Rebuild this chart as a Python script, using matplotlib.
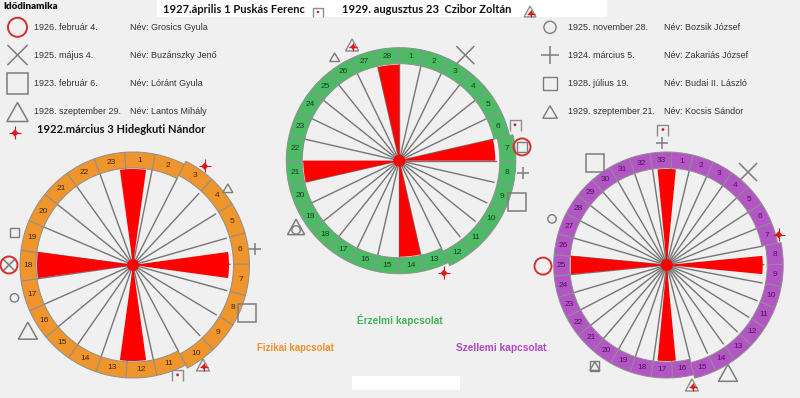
import numpy as np
import matplotlib
matplotlib.use('Agg')
import matplotlib.pyplot as plt
from matplotlib.patches import Wedge, Circle, Rectangle, Polygon

# ---------------- data ----------------
title = "Idődinamika"
left_dates = ["1926. február 4.", "1925. május 4.", "1923. február 6.", "1928. szeptember 29."]
left_names = ["Név: Grosics Gyula", "Név: Buzánszky Jenő", "Név: Lóránt Gyula", "Név: Lantos Mihály"]
left_symbols = ["Grosics", "Buzánszky", "Lóránt", "Lantos"]
right_dates = ["1925. november 28.", "1924. március 5.", "1928. július 19.", "1929. szeptember 21."]
right_names = ["Név: Bozsik József", "Név: Zakariás József", "Név: Budai II. László", "Név: Kocsis Sándor"]
right_symbols = ["Bozsik", "Zakariás", "Budai", "Kocsis"]
hidegkuti_text = "1922.március 3 Hidegkuti Nándor"
puskas_text = "1927.április 1 Puskás Ferenc"
czibor_text = "1929. augusztus 23  Czibor Zoltán"

# cycles: number of days, label
fiz_days = 23
erz_days = 28
szel_days = 33
fiz_label = "Fizikai kapcsolat"
erz_label = "Érzelmi kapcsolat"
szel_label = "Szellemi kapcsolat"

# critical days (red spokes), as compass angles of spoke centre
fiz_critical = [0, 90, 180, 270]
erz_critical = [-6.43, 83.57, 173.57, 263.57]
szel_critical = [0, 90, 180, 270]

# segments drawn slightly outward (current stretch)
fiz_raised = list(range(3, 11))
erz_raised = list(range(7, 13))
szel_raised = list(range(8, 16))

# person positions on each wheel: (angle deg clockwise from top, distance)
fiz_people = {"Hidegkuti": (36, 122), "Kocsis": (51, 122), "Zakariás": (82.5, 123),
              "Lóránt": (113, 124), "Czibor": (145, 122), "Puskás": (158, 119),
              "Lantos": (238, 124), "Bozsik": (254.5, 123), "Grosics": (270, 124),
              "Buzánszky": (270, 124), "Budai": (285.5, 123)}
erz_people = {"Czibor": (337.8, 125), "Kocsis": (328, 122), "Buzánszky": (32, 124.5),
              "Puskás": (73, 121), "Grosics": (83.6, 123.5), "Budai": (83.6, 123.5),
              "Zakariás": (95.7, 124), "Lóránt": (109.3, 124.7), "Hidegkuti": (158.3, 121),
              "Lantos": (237.3, 122.7), "Bozsik": (237.3, 122.7)}
szel_people = {"Puskás": (358.4, 135), "Zakariás": (357.8, 122), "Lóránt": (324.9, 124.7),
               "Buzánszky": (41.2, 123.5), "Bozsik": (291.9, 123.6), "Hidegkuti": (74.9, 116),
               "Grosics": (269.5, 123.7), "Budai": (215.4, 124), "Kocsis": (215.4, 124),
               "Lantos": (150.4, 124), "Czibor": (168.1, 122.6)}

# ---------------- figure ----------------
W, H = 800, 398
BG = '#f0f0f0'
GRAY = '#7c7c7c'
RED = '#ff0000'
fig = plt.figure(figsize=(W / 100, H / 100), dpi=100)
fig.patch.set_facecolor(BG)
ax = fig.add_axes([0, 0, 1, 1])
ax.set_xlim(0, W)
ax.set_ylim(H, 0)
ax.axis('off')
ax.set_facecolor(BG)

FONT = 'Liberation Sans'
BOLD = 'Lato'


def pt(cx, cy, ang, r):
    a = np.radians(ang)
    return cx + r * np.sin(a), cy - r * np.cos(a)


def line(xs, ys, c=GRAY, lw=1.1, z=5):
    ax.plot(xs, ys, color=c, lw=lw, zorder=z, solid_capstyle='butt')


def sym_big_circle(x, y, s=1.0):
    ax.add_patch(Circle((x, y), 8.5 * s, fill=False, ec='#d43030', lw=1.4, zorder=6))


def sym_big_x(x, y, s=1.0):
    h = 9 * s
    line([x - h, x + h], [y - h, y + h])
    line([x - h, x + h], [y + h, y - h])


def sym_big_square(x, y, s=1.0):
    h = 9 * s
    ax.add_patch(Rectangle((x - h, y - h), 2 * h, 2 * h, fill=False, ec=GRAY, lw=1.1, zorder=5))


def sym_big_tri(x, y, s=1.0):
    w, hh = 9.5 * s, 8.5 * s
    ax.add_patch(Polygon([(x - w, y + hh), (x + w, y + hh), (x, y - hh)], closed=True,
                         fill=False, ec=GRAY, lw=1.1, zorder=5))


def sym_small_circle(x, y, s=1.0):
    ax.add_patch(Circle((x, y), 4.2 * s, fill=False, ec=GRAY, lw=1.0, zorder=6))


def sym_plus(x, y, s=1.0):
    h = 6 * s
    line([x - h, x + h], [y, y])
    line([x, x], [y - h, y + h])


def sym_small_square(x, y, s=1.0):
    h = 4.6 * s
    ax.add_patch(Rectangle((x - h, y - h), 2 * h, 2 * h, fill=False, ec=GRAY, lw=1.0, zorder=6))


def sym_small_tri(x, y, s=1.0):
    w, hh = 5 * s, 4.3 * s
    ax.add_patch(Polygon([(x - w, y + hh), (x + w, y + hh), (x, y - hh)], closed=True,
                         fill=False, ec=GRAY, lw=1.0, zorder=6))


def sym_hidegkuti(x, y, s=1.0):
    d = 3.6 * s
    line([x, x], [y - 7 * s, y + 6 * s], c='#c02020', lw=0.8, z=6)
    line([x - 6 * s, x + 6 * s], [y, y], c='#c02020', lw=0.8, z=6)
    ax.add_patch(Polygon([(x - d, y), (x, y - d), (x + d, y), (x, y + d)], closed=True,
                         fc='#e01818', ec='none', zorder=7))


def sym_puskas(x, y, s=1.0):
    h = 5.5 * s
    line([x - h, x - h, x + h, x + h], [y + h, y - h, y - h, y + h], c='#8c8c8c', lw=1.0)
    ax.add_patch(Circle((x, y - 0.5), 1.4 * s, fc='#d02020', ec='none', zorder=7))


def sym_czibor(x, y, s=1.0):
    w, hh = 6.5 * s, 6 * s
    ax.add_patch(Polygon([(x - w, y + hh), (x + w, y + hh), (x, y - hh)], closed=True,
                         fill=False, ec='#8c8c8c', lw=1.0, zorder=5))
    d = 2.8 * s
    cx, cy = x + 1, y + 2
    ax.add_patch(Polygon([(cx - d, cy), (cx, cy - d), (cx + d, cy), (cx, cy + d)], closed=True,
                         fc='#e01818', ec='none', zorder=7))
    line([cx - 4 * s, cx + 4 * s], [cy, cy], c='#e01818', lw=0.9, z=7)
    line([cx, cx], [cy - 4 * s, cy + 4 * s], c='#e01818', lw=0.9, z=7)


SYMBOLS = {"Grosics": sym_big_circle, "Buzánszky": sym_big_x, "Lóránt": sym_big_square,
           "Lantos": sym_big_tri, "Bozsik": sym_small_circle, "Zakariás": sym_plus,
           "Budai": sym_small_square, "Kocsis": sym_small_tri, "Hidegkuti": sym_hidegkuti,
           "Puskás": sym_puskas, "Czibor": sym_czibor}


def wheel(cx, cy, n, color, label_color, critical, raised, people, rot):
    r_in, r_out = 97, 113
    w = 360.0 / n
    # ring segments
    for k in range(1, n + 1):
        a1 = rot + (k - 1) * w
        a2 = rot + k * w
        sh = 3.5 if k in raised else 0
        ax.add_patch(Wedge((cx, cy), r_out + sh, a1 - 90, a2 - 90, width=r_out - r_in,
                           fc=color, ec='#8f8f8f', lw=0.7, zorder=2))
        lx, ly = pt(cx, cy, (a1 + a2) / 2, (r_in + r_out) / 2 + sh)
        ax.text(lx, ly, str(k), fontsize=6.0, family=FONT, color=label_color,
                ha='center', va='center', zorder=3)
    # spokes
    for k in range(n):
        a = rot + k * w
        x2, y2 = pt(cx, cy, a, r_in)
        ax.plot([cx, x2], [cy, y2], color='#767676', lw=1.0, zorder=1)
    # critical wedges
    for c in critical:
        ax.add_patch(Wedge((cx, cy), r_in - 1, c - w / 2 - 90, c + w / 2 - 90,
                           fc=RED, ec='none', zorder=1.5))
    ax.add_patch(Circle((cx, cy), 6, fc=RED, ec='none', zorder=4))
    # people
    coincide = {}
    for name, (ang, rr) in people.items():
        coincide.setdefault((ang, rr), []).append(name)
    for name, (ang, rr) in people.items():
        x, y = pt(cx, cy, ang, rr)
        s = 1.0
        group = coincide[(ang, rr)]
        if len(group) > 1 and name == "Buzánszky":
            s = 0.7
        if len(group) > 1 and name == "Bozsik":
            y += 3
        if len(group) > 1 and name == "Lantos":
            s = 0.9
        SYMBOLS[name](x, y, s)


# three wheels
wheel(133, 265, fiz_days, '#f0942c', '#3a2a10', fiz_critical, fiz_raised, fiz_people, -4.3)
wheel(399.3, 160.7, erz_days, '#4dbb66', '#1e3a22', erz_critical, erz_raised, erz_people, 0)
wheel(666.7, 265, szel_days, '#b455c6', '#4a1656', szel_critical, szel_raised, szel_people, 2.5)

# cycle names
ax.text(400, 320, erz_label, fontsize=7.3, family=FONT, weight='bold', color='#44b45a',
        ha='center', va='center')
ax.text(295.5, 348, fiz_label, fontsize=6.9, family=FONT, weight='bold', color='#f0902a',
        ha='center', va='center')
ax.text(501.5, 348, szel_label, fontsize=7.3, family=FONT, weight='bold', color='#b048c4',
        ha='center', va='center')

# header
ax.text(3, 6.5, title, fontsize=7.0, family=BOLD, weight='heavy', color='#111111',
        ha='left', va='center')
ax.add_patch(Rectangle((157, 0), 450, 17, fc='white', ec='none', zorder=1))
ax.text(163, 9.5, puskas_text, fontsize=8.0, family=BOLD, weight='bold', color='#111111',
        ha='left', va='center', zorder=3)
sym_puskas(318, 12.5, 0.9)
ax.text(342, 9.5, czibor_text, fontsize=8.0, family=BOLD, weight='bold', color='#111111',
        ha='left', va='center', zorder=3)
sym_czibor(530, 11.5, 0.9)

# legends
rows_y = [27.3, 55, 83.5, 112]
for yy, d, nm, sy in zip(rows_y, left_dates, left_names, left_symbols):
    SYMBOLS[sy](17.5, yy, 1.12)
    ax.text(34.5, yy, d, fontsize=6.5, family=FONT, color='#333333', ha='left', va='center')
    ax.text(130, yy, nm, fontsize=6.5, family=FONT, color='#333333', ha='left', va='center')
for yy, d, nm, sy in zip(rows_y, right_dates, right_names, right_symbols):
    SYMBOLS[sy](550, yy, 1.45)
    ax.text(567.5, yy, d, fontsize=6.5, family=FONT, color='#333333', ha='left', va='center')
    ax.text(664, yy, nm, fontsize=6.5, family=FONT, color='#333333', ha='left', va='center')

sym_hidegkuti(15, 133, 1.0)
ax.text(37, 129.5, hidegkuti_text, fontsize=8.0, family=BOLD, weight='bold', color='#111111',
        ha='left', va='center')

# bottom blank box
ax.add_patch(Rectangle((352, 376), 108, 14, fc='white', ec='none'))

fig.savefig('out.png', dpi=100, facecolor=BG)
